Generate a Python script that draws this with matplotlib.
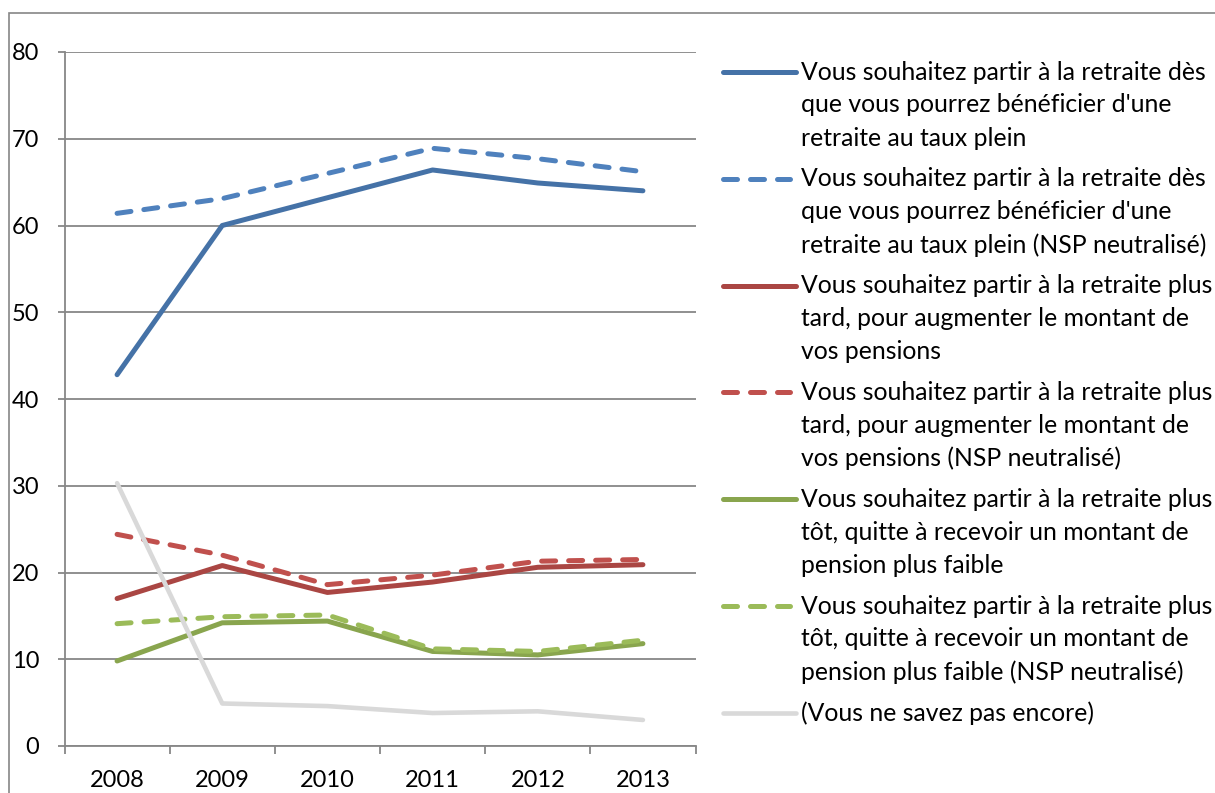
import numpy as np
import matplotlib
matplotlib.use('Agg')
from matplotlib import pyplot as plt
from matplotlib.lines import Line2D
from matplotlib.patches import Rectangle

plt.rcParams['font.family'] = ['Lato', 'DejaVu Sans']

# donnees
annees = ['2008', '2009', '2010', '2011', '2012', '2013']
des_taux_plein = [42.8, 60.0, 63.2, 66.4, 64.9, 64.0]
des_taux_plein_nsp = [61.4, 63.1, 66.0, 68.9, 67.7, 66.2]
plus_tard = [17.0, 20.8, 17.7, 18.9, 20.6, 20.9]
plus_tard_nsp = [24.4, 22.0, 18.6, 19.7, 21.3, 21.5]
plus_tot = [9.8, 14.2, 14.4, 10.9, 10.5, 11.8]
plus_tot_nsp = [14.1, 14.9, 15.1, 11.2, 10.9, 12.2]
ne_sait_pas = [30.3, 4.9, 4.6, 3.8, 4.0, 3.0]

libelles = [
    ["Vous souhaitez partir à la retraite dès", "que vous pourrez bénéficier d'une", "retraite au taux plein"],
    ["Vous souhaitez partir à la retraite dès", "que vous pourrez bénéficier d'une", "retraite au taux plein (NSP neutralisé)"],
    ["Vous souhaitez partir à la retraite plus", "tard, pour augmenter le montant de", "vos pensions"],
    ["Vous souhaitez partir à la retraite plus", "tard, pour augmenter le montant de", "vos pensions (NSP neutralisé)"],
    ["Vous souhaitez partir à la retraite plus", "tôt, quitte à recevoir un montant de", "pension plus faible"],
    ["Vous souhaitez partir à la retraite plus", "tôt, quitte à recevoir un montant de", "pension plus faible (NSP neutralisé)"],
    ["(Vous ne savez pas encore)"],
]

series = [des_taux_plein, des_taux_plein_nsp, plus_tard, plus_tard_nsp,
          plus_tot, plus_tot_nsp, ne_sait_pas]
couleurs = ['#4572A7', '#4F81BD', '#AA4643', '#C0504D', '#89A54E', '#9BBB59', '#D9D9D9']
tirets = [False, True, False, True, False, True, False]
epaisseurs = [3.6, 3.6, 3.6, 3.6, 3.6, 3.6, 3.3]

W, H = 1215, 793
fig = plt.figure(figsize=(W/100, H/100), dpi=100)

# cadre du graphique
fig.add_artist(Rectangle((9/W, -0.1), 1.2, (H-13)/H + 0.1, transform=fig.transFigure,
                         fill=False, edgecolor='#868686', linewidth=1.2))

ax = fig.add_axes([64.5/W, (H-746)/H, (695.5-64.5)/W, (746-52)/H])
x = np.arange(len(annees))
for s, c, t, lw in zip(series, couleurs, tirets, epaisseurs):
    if t:
        ax.plot(x, s, color=c, linewidth=lw, linestyle=(0, (2.8, 2.6)),
                dash_capstyle='round', solid_capstyle='round')
    else:
        ax.plot(x, s, color=c, linewidth=lw, solid_capstyle='round',
                solid_joinstyle='round')

ax.set_xlim(-0.5, 5.5)
ax.set_ylim(0, 80)
ax.set_yticks(range(0, 81, 10))
ax.yaxis.grid(True, color='#878787', linewidth=1.3)
ax.set_axisbelow(True)
ax.tick_params(axis='y', length=5, width=1.3, color='#878787', pad=13, labelsize=17)

ax.set_xticks(np.arange(-0.5, 6, 1))
ax.set_xticklabels([])
ax.set_xticks(x, minor=True)
ax.set_xticklabels(annees, minor=True)
ax.tick_params(axis='x', which='major', length=6, width=1.3, color='#878787')
ax.tick_params(axis='x', which='minor', length=0, pad=17, labelsize=17)

for sp in ['top', 'right']:
    ax.spines[sp].set_visible(False)
for sp in ['left', 'bottom']:
    ax.spines[sp].set_color('#878787')
    ax.spines[sp].set_linewidth(1.3)

# legende
y0 = 72
pas_entree = 106.8
pas_ligne = 33
for i, (lib, c, t, lw) in enumerate(zip(libelles, couleurs, tirets, epaisseurs)):
    yc = y0 + i*pas_entree
    if t:
        ln = Line2D([723/W, 790/W], [1 - yc/H]*2, transform=fig.transFigure, color=c,
                    linewidth=lw, linestyle=(0, (2.8, 2.6)), dash_capstyle='round')
    else:
        ln = Line2D([723/W, 796/W], [1 - yc/H]*2, transform=fig.transFigure, color=c,
                    linewidth=lw, solid_capstyle='round')
    fig.add_artist(ln)
    for j, txt in enumerate(lib):
        fig.text(801/W, 1 - (yc + j*pas_ligne)/H, txt, fontsize=17.8,
                 ha='left', va='center', color='black')

fig.savefig('out.png', dpi=100)
